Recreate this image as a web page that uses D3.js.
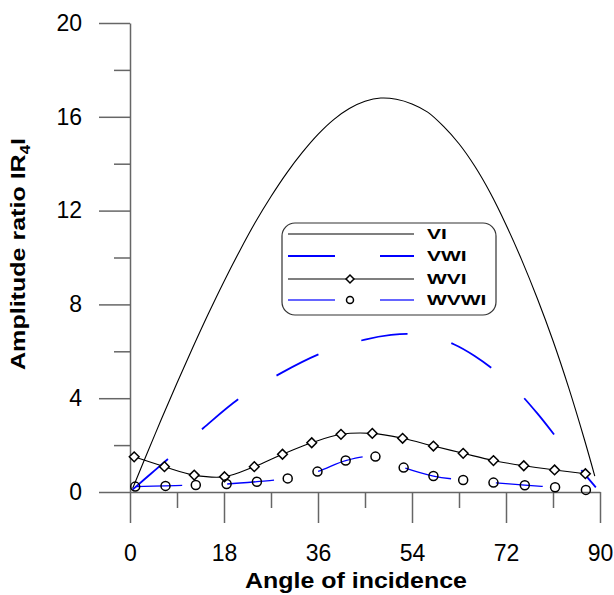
<!DOCTYPE html>
<html>
<head>
<meta charset="utf-8">
<script src="https://cdn.jsdelivr.net/npm/d3@7"></script>
<style>
  html, body { margin: 0; padding: 0; background: #fff; }
  svg { display: block; font-family: "Liberation Sans", Arial, sans-serif; }
</style>
</head>
<body>
<svg id="chart" width="614" height="595"></svg>
<script>
// ---------------- data ----------------
const xTicks = [0, 18, 36, 54, 72, 90];
const xMinorTicks = [9, 27, 45, 63, 81];
const yTicks = [0, 4, 8, 12, 16, 20];
const yMinorTicks = [2, 6, 10, 14, 18];

const seriesNames = ["VI", "VWI", "WVI", "WVWI"];

// VI (solid black, no markers)
const viAngle = [0.5, 3, 6, 9, 12, 15, 18, 21, 24, 27, 30, 33, 36, 39, 42, 45, 48, 51, 54, 57, 60, 63, 66, 69, 72, 75, 78, 81, 84, 87, 89];
const viValue = [0.15, 1.5, 3.1, 4.65, 6.15, 7.6, 8.98, 10.28, 11.5, 12.6, 13.6, 14.48, 15.25, 15.88, 16.35, 16.66, 16.8, 16.75, 16.55, 16.2, 15.6, 14.85, 13.9, 12.75, 11.4, 9.9, 8.25, 6.45, 4.45, 2.25, 0.68];

// VWI (blue long dashes, no markers)
const vwiAngle = [0.5, 4, 8, 14, 21, 29, 37, 45, 50, 54, 58, 62, 66, 70, 74, 78, 82, 86, 89.2];
const vwiValue = [0.1, 0.78, 1.55, 2.72, 4.0, 5.08, 5.95, 6.5, 6.7, 6.74, 6.6, 6.3, 5.8, 5.15, 4.35, 3.35, 2.22, 1.05, 0.2];

// WVI (black line with diamonds)
const wviAngle = [0.8, 6.6, 12.3, 18.1, 23.8, 29.2, 34.8, 40.4, 46.4, 52.2, 58.1, 63.8, 69.6, 75.4, 81.3, 87.2];
const wviValue = [1.5, 1.08, 0.72, 0.65, 1.08, 1.61, 2.1, 2.46, 2.5, 2.29, 1.96, 1.65, 1.34, 1.12, 0.94, 0.78];

// WVWI (blue dashes with circles)
const wvwiAngle = [1.0, 6.8, 12.6, 18.5, 24.3, 30.2, 35.9, 41.3, 47.0, 52.4, 58.1, 63.8, 69.6, 75.6, 81.4, 87.3];
const wvwiValue = [0.23, 0.26, 0.3, 0.34, 0.44, 0.58, 0.87, 1.34, 1.51, 1.04, 0.68, 0.51, 0.4, 0.29, 0.2, 0.09];

// ---------------- chart ----------------
const svg = d3.select("#chart");
const x = d3.scaleLinear().domain([0, 90]).range([130, 600]);
const y = d3.scaleLinear().domain([0, 20]).range([492, 23]);

const axisColor = "#666";

// minor ticks
svg.append("g").attr("transform", "translate(0,492)")
  .call(d3.axisBottom(x).tickValues(xMinorTicks).tickSize(16).tickSizeOuter(0).tickFormat(""))
  .call(g => g.select(".domain").remove())
  .call(g => g.selectAll("line").attr("stroke", axisColor).attr("stroke-width", 1.5));
svg.append("g").attr("transform", "translate(130,0)")
  .call(d3.axisLeft(y).tickValues(yMinorTicks).tickSize(16).tickSizeOuter(0).tickFormat(""))
  .call(g => g.select(".domain").remove())
  .call(g => g.selectAll("line").attr("stroke", axisColor).attr("stroke-width", 1.5));

// major axes
const xAxis = svg.append("g").attr("transform", "translate(0,492)")
  .call(d3.axisBottom(x).tickValues(xTicks).tickSize(31).tickSizeOuter(0).tickPadding(22));
xAxis.select(".domain").attr("stroke", axisColor).attr("stroke-width", 1.5);
xAxis.selectAll("line").attr("stroke", axisColor).attr("stroke-width", 1.5);
xAxis.selectAll("text").attr("font-size", 23).attr("fill", "#000")
  .attr("font-family", "Liberation Sans, Arial, sans-serif");

const yAxis = svg.append("g").attr("transform", "translate(130,0)")
  .call(d3.axisLeft(y).tickValues(yTicks).tickSize(31).tickSizeOuter(0).tickPadding(17));
yAxis.select(".domain").attr("stroke", axisColor).attr("stroke-width", 1.5);
yAxis.selectAll("line").attr("stroke", axisColor).attr("stroke-width", 1.5);
yAxis.selectAll("text").attr("font-size", 23).attr("fill", "#000")
  .attr("font-family", "Liberation Sans, Arial, sans-serif");

// axis titles
function stretch(sel, target) {
  const w = sel.node().getComputedTextLength();
  return target / w;
}
const xt = svg.append("text")
  .attr("text-anchor", "middle").attr("font-weight", "bold").attr("font-size", 22)
  .text("Angle of incidence");
const sx = stretch(xt, 222);
xt.attr("transform", `translate(356,588) scale(${sx},1)`);

const yt = svg.append("text")
  .attr("text-anchor", "middle").attr("font-weight", "bold").attr("font-size", 21);
yt.append("tspan").text("Amplitude ratio IR");
yt.append("tspan").attr("font-size", 14).attr("dy", 5).text("4");
yt.append("tspan").attr("dy", -5).text("I");
const sy = stretch(yt, 232);
yt.attr("transform", `translate(25,254) rotate(-90) scale(${sy},1)`);

// lines
const line = d3.line().x(d => x(d[0])).y(d => y(d[1])).curve(d3.curveCatmullRom.alpha(0.5));
const zip = (a, b) => a.map((v, i) => [v, b[i]]);

const viData = zip(viAngle, viValue);
const vwiData = zip(vwiAngle, vwiValue);
const wviData = zip(wviAngle, wviValue);
const wvwiData = zip(wvwiAngle, wvwiValue);

svg.append("path").datum(viData).attr("d", line)
  .attr("fill", "none").attr("stroke", "#000").attr("stroke-width", 1.1);
svg.append("path").datum(vwiData).attr("d", line)
  .attr("fill", "none").attr("stroke", "#0000ff").attr("stroke-width", 1.8)
  .attr("stroke-dasharray", "47,45");
svg.append("path").datum(wviData).attr("d", line)
  .attr("fill", "none").attr("stroke", "#000").attr("stroke-width", 1.1);
svg.append("path").datum(wvwiData).attr("d", line)
  .attr("fill", "none").attr("stroke", "#0000ff").attr("stroke-width", 1.3)
  .attr("stroke-dasharray", "47,45");

const diamond = d3.symbol().type(d3.symbolDiamond2).size(60);
svg.append("g").selectAll("path").data(wviData).join("path")
  .attr("d", diamond)
  .attr("transform", d => `translate(${x(d[0])},${y(d[1])})`)
  .attr("fill", "#fff").attr("stroke", "#000").attr("stroke-width", 1.5);

svg.append("g").selectAll("circle").data(wvwiData).join("circle")
  .attr("cx", d => x(d[0])).attr("cy", d => y(d[1])).attr("r", 4.5)
  .attr("fill", "none").attr("stroke", "#000").attr("stroke-width", 1.5);

// legend
const lg = svg.append("g");
lg.append("rect").attr("x", 282).attr("y", 223).attr("width", 214).attr("height", 92)
  .attr("rx", 13).attr("fill", "#fff").attr("stroke", "#333").attr("stroke-width", 1.2);
const rowsY = [234, 256, 279, 300];
const styles = [
  { stroke: "#000", w: 1.1, dash: null, marker: null },
  { stroke: "#0000ff", w: 1.8, dash: "47,45", marker: null },
  { stroke: "#000", w: 1.1, dash: null, marker: "diamond" },
  { stroke: "#3333ff", w: 1.3, dash: "47,45", marker: "circle" }
];
seriesNames.forEach((name, i) => {
  const s = styles[i];
  const yy = rowsY[i];
  const l = lg.append("line").attr("x1", 288).attr("x2", 414).attr("y1", yy).attr("y2", yy)
    .attr("stroke", s.stroke).attr("stroke-width", s.w);
  if (s.dash) l.attr("stroke-dasharray", s.dash);
  if (s.marker === "diamond") {
    lg.append("path").attr("d", d3.symbol().type(d3.symbolDiamond2).size(40)())
      .attr("transform", `translate(350,${yy})`)
      .attr("fill", "#fff").attr("stroke", "#000").attr("stroke-width", 1.5);
  } else if (s.marker === "circle") {
    lg.append("circle").attr("cx", 350).attr("cy", yy).attr("r", 3.5)
      .attr("fill", "none").attr("stroke", "#000").attr("stroke-width", 1.5);
  }
  const t = lg.append("text").attr("font-weight", "bold").attr("font-size", 14)
    .attr("fill", "#000").text(name);
  t.attr("transform", `translate(427,${yy + 5}) scale(1.5,1)`);
});
</script>
</body>
</html>
